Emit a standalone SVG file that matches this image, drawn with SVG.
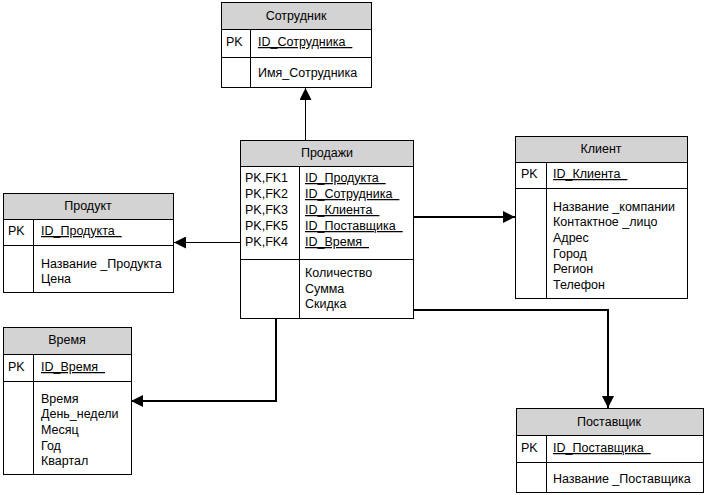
<svg xmlns="http://www.w3.org/2000/svg" width="705" height="495" viewBox="0 0 705 495">
<style>
.box{fill:#fff;stroke:#000;stroke-width:1}
.hdr{fill:#d3d3d3;stroke:#000;stroke-width:1}
.ln{stroke:#000;stroke-width:1;fill:none}
text{font-family:"Liberation Sans",Arial,sans-serif;font-size:12.5px;fill:#000}
.c{text-anchor:middle}
.u{text-decoration:underline;white-space:pre}
.thin{stroke:#000;stroke-width:1;fill:none}
.thick{stroke:#000;stroke-width:2;fill:none}
</style>
<defs>
<marker id="ah" viewBox="0 0 10 10" refX="10" refY="5" markerWidth="12" markerHeight="12" markerUnits="userSpaceOnUse" orient="auto">
<path d="M0,0 L10,5 L0,10 z" fill="#000"/>
</marker>
</defs>
<g id="connectors">
<path class="thin" d="M305.5,140.5 V88" marker-end="url(#ah)"/>
<path class="thick" d="M414,217 H515" marker-end="url(#ah)"/>
<path class="thin" d="M240.5,242.5 H174" marker-end="url(#ah)"/>
<path class="thick" d="M276,318 V401 H131" marker-end="url(#ah)"/>
<path class="thick" d="M414,310 H608 V408" marker-end="url(#ah)"/>
</g>
<g id="sotrudnik">
<rect class="box" x="221.5" y="2.5" width="150" height="85"/>
<rect class="hdr" x="221.5" y="2.5" width="150" height="27"/>
<path class="ln" d="M221.5,57.5 H371.5 M250.5,29.5 V87.5"/>
<text class="c" x="296" y="20">Сотрудник</text>
<text x="226" y="46">PK</text>
<text class="u" x="258" y="46">ID_Сотрудника  </text>
<text x="258" y="77">Имя_Сотрудника</text>
</g>
<g id="prodazhi">
<rect class="box" x="240.5" y="140.5" width="173" height="178"/>
<rect class="hdr" x="240.5" y="140.5" width="173" height="26"/>
<path class="ln" d="M240.5,259.5 H413.5 M299.5,166.5 V318.5"/>
<text class="c" x="327" y="157">Продажи</text>
<text x="245" y="182">PK,FK1</text>
<text x="245" y="198">PK,FK2</text>
<text x="245" y="214">PK,FK3</text>
<text x="245" y="230">PK,FK5</text>
<text x="245" y="246">PK,FK4</text>
<text class="u" x="305" y="182">ID_Продукта  </text>
<text class="u" x="305" y="198">ID_Сотрудника  </text>
<text class="u" x="305" y="214">ID_Клиента  </text>
<text class="u" x="305" y="230">ID_Поставщика  </text>
<text class="u" x="305" y="246">ID_Время  </text>
<text x="305" y="277">Количество</text>
<text x="305" y="293">Сумма</text>
<text x="305" y="308">Скидка</text>
</g>
<g id="klient">
<rect class="box" x="515.5" y="136.5" width="172" height="162"/>
<rect class="hdr" x="515.5" y="136.5" width="172" height="26"/>
<path class="ln" d="M515.5,188.5 H687.5 M546.5,162.5 V298.5"/>
<text class="c" x="601" y="153">Клиент</text>
<text x="521" y="178">PK</text>
<text class="u" x="553" y="178">ID_Клиента  </text>
<text x="553" y="211">Название _компании</text>
<text x="553" y="226">Контактное _лицо</text>
<text x="553" y="242">Адрес</text>
<text x="553" y="258">Город</text>
<text x="553" y="273">Регион</text>
<text x="553" y="289">Телефон</text>
</g>
<g id="produkt">
<rect class="box" x="3.5" y="193.5" width="170" height="99"/>
<rect class="hdr" x="3.5" y="193.5" width="170" height="26"/>
<path class="ln" d="M3.5,245.5 H173.5 M33.5,219.5 V292.5"/>
<text class="c" x="88" y="210">Продукт</text>
<text x="8" y="235">PK</text>
<text class="u" x="41" y="235">ID_Продукта  </text>
<text x="41" y="268">Название _Продукта</text>
<text x="41" y="283">Цена</text>
</g>
<g id="vremya">
<rect class="box" x="3.5" y="327.5" width="128" height="147"/>
<rect class="hdr" x="3.5" y="327.5" width="128" height="27"/>
<path class="ln" d="M3.5,381.5 H131.5 M33.5,354.5 V474.5"/>
<text class="c" x="67" y="344">Время</text>
<text x="8" y="371">PK</text>
<text class="u" x="41" y="371">ID_Время  </text>
<text x="41" y="403">Время</text>
<text x="41" y="418">День_недели</text>
<text x="41" y="434">Месяц</text>
<text x="41" y="450">Год</text>
<text x="41" y="465">Квартал</text>
</g>
<g id="postavshchik">
<rect class="box" x="516.5" y="408.5" width="187" height="84"/>
<rect class="hdr" x="516.5" y="408.5" width="187" height="27"/>
<path class="ln" d="M516.5,462.5 H703.5 M546.5,435.5 V492.5"/>
<text class="c" x="609" y="426">Поставщик</text>
<text x="521" y="452">PK</text>
<text class="u" x="553" y="452">ID_Поставщика  </text>
<text x="553" y="483">Название _Поставщика</text>
</g>
</svg>
